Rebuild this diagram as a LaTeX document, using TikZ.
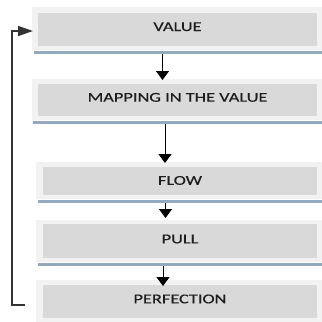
\documentclass[tikz,border=0pt]{standalone}
\usepackage{fontspec}
\usetikzlibrary{arrows.meta}
\newfontfamily\boxfont[FakeStretch=1.36,FakeBold=0.5]{Carlito}
\definecolor{panel}{HTML}{F2F2F2}
\definecolor{bar}{HTML}{D9D9D9}
\definecolor{rulecol}{HTML}{93A9BE}
\definecolor{ink}{HTML}{1E1E1E}
\begin{document}
\begin{tikzpicture}[x=1pt,y=-1pt,
  outerbox/.style={fill=panel, draw=none, inner sep=0pt, outer sep=0pt, anchor=north west},
  innerbox/.style={fill=bar, draw=none, inner sep=0pt, outer sep=0pt, anchor=north west},
  steplabel/.style={anchor=base, inner sep=0pt, text=ink, font=\boxfont\fontsize{13.5}{14}\selectfont},
  underline/.style={draw=rulecol, line width=3pt},
  down/.style={draw=black, line width=1pt, -{Triangle[width=13pt,length=9pt]}},
  loopback/.style={draw=black!80, line width=1.5pt, -{Triangle[width=10pt,length=15pt]}}
]
\useasboundingbox (0,0) rectangle (322,322);

% panels
\node[outerbox, minimum width=290pt, minimum height=43pt] (v)  at (32,7)   {};
\node[outerbox, minimum width=290pt, minimum height=41pt] (m)  at (32,79)  {};
\node[outerbox, minimum width=286pt, minimum height=37pt] (f)  at (36,162) {};
\node[outerbox, minimum width=286pt, minimum height=42pt] (p)  at (36,220) {};
\node[outerbox, minimum width=286pt, minimum height=42pt] (pf) at (36,280) {};

% grey bars
\node[innerbox, minimum width=279pt, minimum height=33pt] (vi)  at (38,13)  {};
\node[innerbox, minimum width=279pt, minimum height=32pt] (mi)  at (38,84)  {};
\node[innerbox, minimum width=274pt, minimum height=28pt] (fi)  at (43,167) {};
\node[innerbox, minimum width=274pt, minimum height=34pt] (pi)  at (43,224) {};
\node[innerbox, minimum width=274pt, minimum height=33pt] (pfi) at (43,285) {};

% blue underlines
\draw[underline] (34,52.5)  -- (322,52.5);
\draw[underline] (33,122.5) -- (322,122.5);
\draw[underline] (38,201.5) -- (322,201.5);
\draw[underline] (38,264.5) -- (322,264.5);

% labels
\node[steplabel] (tv)  at (177.5,31)    {VALUE};
\node[steplabel] (tm)  at (177.5,101.7) {MAPPING IN THE VALUE};
\node[steplabel] (tf)  at (180,184.8)   {FLOW};
\node[steplabel] (tp)  at (180,243.3)   {PULL};
\node[steplabel] (tpf) at (180,303.3)   {PERFECTION};

% arrow end points
\coordinate (a1s) at (162.5,54);  \coordinate (a1e) at (162.5,80);
\coordinate (a2s) at (165,124);   \coordinate (a2e) at (165,163);
\coordinate (a3s) at (165.5,203); \coordinate (a3e) at (165.5,218);
\coordinate (a4s) at (163,266);   \coordinate (a4e) at (163,286);
\draw[down] (a1s) -- (a1e);
\draw[down] (a2s) -- (a2e);
\draw[down] (a3s) -- (a3e);
\draw[down] (a4s) -- (a4e);

% loop back from PERFECTION to VALUE
\coordinate (fb0) at (25,305);
\coordinate (fbTop) at (12,31);
\coordinate (fbEnd) at (33,31);
\draw[loopback] (fb0) -- (12,305) -- (fbTop) -- (fbEnd);
\end{tikzpicture}
\end{document}
